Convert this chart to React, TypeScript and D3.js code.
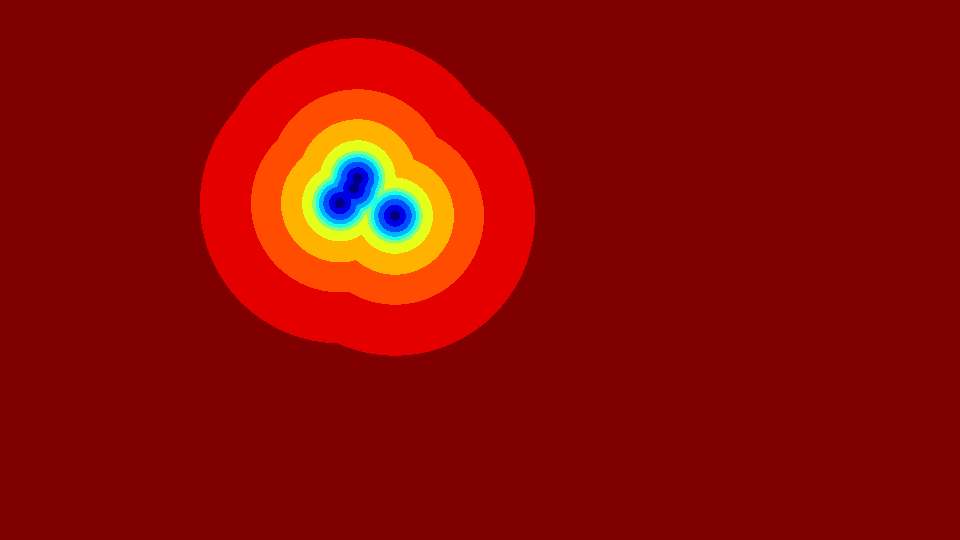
import React, { useEffect, useRef } from 'react';
import * as d3 from 'd3';

// sample positions (data units, 10px per unit)
const pointX = [35.77, 35.43, 34.0, 39.5];
const pointY = [17.83, 18.83, 20.33, 21.57];

// contour levels: distance to nearest sample, outermost ring first
const levels = [14.0, 8.9, 5.9, 3.8, 2.77, 2.43, 2.1, 1.67, 1.1, 0.52];

// classic jet colormap
function jet(t: number) {
  const c = (v: number) => Math.round(255 * Math.max(0, Math.min(1, v)));
  const r = c(1.5 - Math.abs(4 * t - 3));
  const g = c(1.5 - Math.abs(4 * t - 2));
  const b = c(1.5 - Math.abs(4 * t - 1));
  return d3.rgb(r, g, b).formatHex();
}

export default function App() {
  const ref = useRef<SVGSVGElement>(null);

  useEffect(() => {
    const width = 960, height = 540, cell = 2;
    const svg = d3.select(ref.current);
    svg.selectAll('*').remove();

    const x = d3.scaleLinear().domain([0, 96]).range([0, width]);
    const y = d3.scaleLinear().domain([0, 54]).range([0, height]);

    const n = Math.ceil(width / cell), m = Math.ceil(height / cell);
    const values = new Array(n * m);
    for (let j = 0; j < m; j++) {
      for (let i = 0; i < n; i++) {
        const px = x.invert((i + 0.5) * cell);
        const py = y.invert((j + 0.5) * cell);
        let d = Infinity;
        for (let k = 0; k < pointX.length; k++) {
          d = Math.min(d, Math.hypot(px - pointX[k], py - pointY[k]));
        }
        values[i + j * n] = -d;
      }
    }

    const contours = d3.contours()
      .size([n, m])
      .thresholds(levels.map(r => -r))(values);

    const color = (v: number) => {
      const idx = levels.indexOf(-v) + 1;
      return jet(1 - idx / levels.length);
    };

    svg.append('rect')
      .attr('width', width)
      .attr('height', height)
      .attr('fill', jet(1));

    svg.append('g')
      .attr('shape-rendering', 'crispEdges')
      .selectAll('path')
      .data(contours)
      .join('path')
      .attr('d', d3.geoPath(d3.geoIdentity().scale(cell)))
      .attr('fill', d => color(d.value));
  }, []);

  return (
    <svg ref={ref} width={960} height={540}
      style={{ position: 'absolute', left: 0, top: 0, display: 'block' }} />
  );
}
